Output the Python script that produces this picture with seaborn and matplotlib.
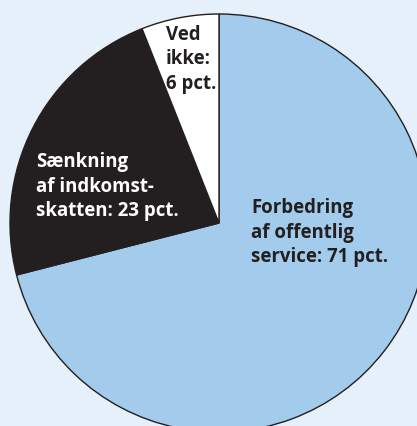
import matplotlib
matplotlib.use("Agg")
import matplotlib.pyplot as plt
import seaborn as sns

# data
labels = ["Forbedring\naf offentlig\nservice: 71 pct.",
          "Sænkning\naf indkomst-\nskatten: 23 pct.",
          "Ved\nikke:\n6 pct."]
shares = [71, 23, 6]
slice_colors = ["#a3cbeb", "#231f20", "#ffffff"]
text_colors = ["#231f20", "#ffffff", "#231f20"]

BG = "#e6f0fa"

sns.set_style("white")
plt.rcParams["font.family"] = ["Open Sans", "DejaVu Sans"]

fig = plt.figure(figsize=(4.17, 4.26), dpi=100, facecolor=BG)
ax = fig.add_axes([0, 0, 1, 1])
ax.set_facecolor(BG)

ax.pie(shares, colors=slice_colors, startangle=90, counterclock=False,
       radius=1.0, center=(0, 0),
       wedgeprops=dict(edgecolor="#231f20", linewidth=1.0))

# label positions in pie units (center 0,0, radius 1)
label_pos = [(0.153, 0.118), (-0.876, 0.338), (-0.254, 0.948)]
for txt, (x, y), c in zip(labels, label_pos, text_colors):
    ax.text(x, y, txt, ha="left", va="top", color=c, fontsize=13.4,
            fontweight="bold", linespacing=1.3)

ax.set_xlim(-219 / 209, (417 - 219) / 209)
ax.set_ylim(-(426 - 223) / 209, 223 / 209)
ax.set_aspect("equal")
ax.axis("off")

fig.savefig("out.png", dpi=100, facecolor=BG)
